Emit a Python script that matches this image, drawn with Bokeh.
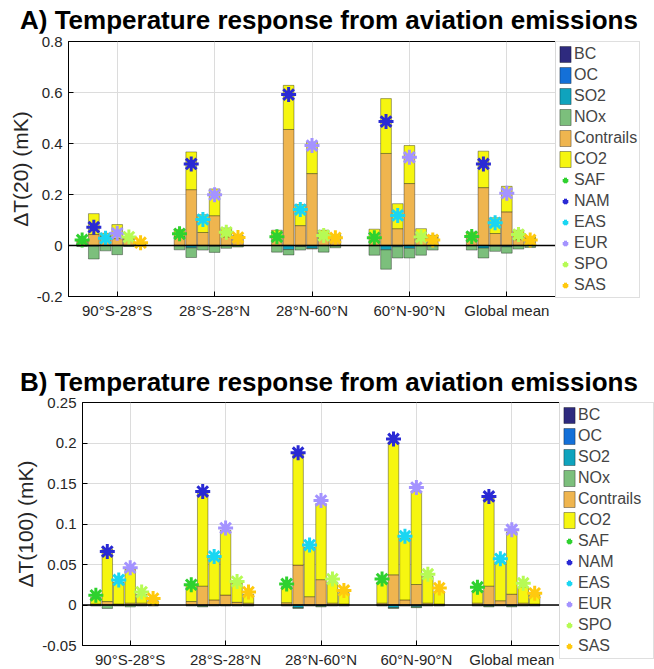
import numpy as np
from bokeh.plotting import figure
from bokeh.models import (Legend, LegendItem, FixedTicker, Span, Range1d,
                          NumeralTickFormatter, Div)
from bokeh.layouts import column
from bokeh.embed import file_html
from bokeh.resources import INLINE

bands = ["90°S-28°S", "28°S-28°N", "28°N-60°N", "60°N-90°N", "Global mean"]
regions = ["SAF", "NAM", "EAS", "EUR", "SPO", "SAS"]
components = ["BC", "OC", "SO2", "NOx", "Contrails", "CO2"]

comp_colors = ["#2e2a7e", "#1470d8", "#0fa3bd", "#7cbf7c", "#efb54f", "#f6f610"]
region_colors = ["#2fd12f", "#2a2ad4", "#1ad6f2", "#a493ff", "#b6fb55", "#ffc90e"]

title_a = "A) Temperature response from aviation emissions"
title_b = "B) Temperature response from aviation emissions"

# ---- Panel A: dT(20) in mK; rows = latitude bands, columns = SAF, NAM, EAS, EUR, SPO, SAS
a_bc = [[0.001] * 6 for _ in range(5)]
a_oc = [[-0.001] * 6 for _ in range(5)]
a_so2 = [[0, -0.002, 0, 0, 0, 0],
         [0, -0.008, 0, -0.002, 0, 0],
         [0, -0.015, -0.003, -0.010, 0, 0],
         [0, -0.016, -0.004, -0.010, 0, 0],
         [0, -0.009, -0.002, -0.004, 0, 0]]
a_nox = [[-0.003, -0.050, -0.020, -0.035, -0.003, -0.002],
         [-0.016, -0.038, -0.017, -0.024, -0.010, -0.005],
         [-0.025, -0.021, -0.014, -0.003, -0.025, -0.008],
         [-0.037, -0.076, -0.044, -0.038, -0.037, -0.017],
         [-0.017, -0.039, -0.020, -0.025, -0.013, -0.007]]
a_con = [[0.014, 0.042, 0.036, 0.026, 0.024, 0.008],
         [0.035, 0.218, 0.050, 0.116, 0.033, 0.030],
         [0.033, 0.454, 0.077, 0.281, 0.026, 0.032],
         [0.028, 0.360, 0.065, 0.242, 0.028, 0.030],
         [0.030, 0.226, 0.046, 0.131, 0.022, 0.026]]
a_co2 = [[0.008, 0.082, 0.011, 0.055, 0.008, 0.003],
         [0.027, 0.148, 0.070, 0.105, 0.035, 0.008],
         [0.026, 0.173, 0.083, 0.124, 0.033, 0.010],
         [0.035, 0.215, 0.098, 0.149, 0.037, 0.009],
         [0.022, 0.143, 0.062, 0.100, 0.037, 0.007]]
a_net = [[0.022, 0.072, 0.028, 0.048, 0.033, 0.011],
         [0.046, 0.320, 0.102, 0.199, 0.052, 0.031],
         [0.034, 0.592, 0.141, 0.392, 0.039, 0.030],
         [0.030, 0.486, 0.118, 0.346, 0.033, 0.022],
         [0.035, 0.320, 0.089, 0.205, 0.043, 0.022]]

# ---- Panel B: dT(100) in mK
b_bc = [[0.0003] * 6 for _ in range(5)]
b_oc = [[-0.0003] * 6 for _ in range(5)]
b_so2 = [[0, 0, 0, 0, 0, 0],
         [0, -0.001, 0, 0, 0, 0],
         [0, -0.003, 0, -0.001, 0, 0],
         [0, -0.003, 0, -0.002, 0, 0],
         [0, -0.001, 0, -0.001, 0, 0]]
b_nox = [[-0.001, -0.004, -0.001, -0.002, -0.001, -0.001],
         [-0.001, -0.001, -0.001, -0.001, -0.001, -0.001],
         [-0.001, -0.001, -0.001, -0.001, -0.001, -0.001],
         [-0.001, -0.001, -0.001, -0.001, -0.001, -0.001],
         [-0.001, -0.001, -0.001, -0.001, -0.001, -0.001]]
b_con = [[0.001, 0.004, 0.001, 0.002, 0.002, 0.001],
         [0.004, 0.023, 0.006, 0.012, 0.003, 0.002],
         [0.0025, 0.049, 0.010, 0.031, 0.002, 0.001],
         [0.002, 0.037, 0.006, 0.025, 0.002, 0.001],
         [0.002, 0.023, 0.005, 0.013, 0.002, 0.001]]
b_co2 = [[0.008, 0.065, 0.027, 0.042, 0.011, 0.004],
         [0.020, 0.116, 0.053, 0.080, 0.024, 0.011],
         [0.020, 0.137, 0.061, 0.094, 0.026, 0.014],
         [0.026, 0.164, 0.076, 0.115, 0.033, 0.0155],
         [0.0155, 0.109, 0.0475, 0.077, 0.020, 0.0115]]
b_net = [[0.012, 0.066, 0.031, 0.046, 0.016, 0.008],
         [0.025, 0.140, 0.060, 0.095, 0.029, 0.016],
         [0.026, 0.188, 0.074, 0.129, 0.032, 0.018],
         [0.032, 0.205, 0.085, 0.145, 0.038, 0.021],
         [0.022, 0.134, 0.057, 0.093, 0.027, 0.0145]]

a_ticks = [-0.2, 0, 0.2, 0.4, 0.6, 0.8]
b_ticks = [-0.05, 0, 0.05, 0.1, 0.15, 0.2, 0.25]

FONT = "Liberation Sans"
BAR_W = 0.11
STEP = 0.12


def stack(comp_arrays):
    pos = np.zeros((5, 6))
    neg = np.zeros((5, 6))
    out = []
    for arr in comp_arrays:
        a = np.asarray(arr, float)
        bottom = np.where(a >= 0, pos, neg + a)
        top = np.where(a >= 0, pos + a, neg)
        pos = np.where(a >= 0, pos + a, pos)
        neg = np.where(a < 0, neg + a, neg)
        out.append((bottom, top))
    return out


def title_div(text, height, top):
    html = ('<div style="position:relative; left:20px; top:%dpx; white-space:nowrap; '
            'font-family:\'Liberation Sans\', Arial, sans-serif; font-size:26px; '
            'font-weight:bold; line-height:24px; color:#000;">%s</div>' % (top, text))
    return Div(text=html, width=654, height=height, margin=0)


def panel(ylabel, comps, net, yr, yticks, fw, fh, left, top, bottom, leg_label_w, shift):
    p = figure(frame_width=fw, frame_height=fh,
               x_range=Range1d(0.5, 5.5), y_range=Range1d(*yr),
               output_backend="svg", toolbar_location=None,
               min_border_left=left, min_border_top=top,
               min_border_bottom=bottom, min_border_right=0,
               margin=(0, 0, 0, shift))

    xs = np.arange(1, 6)[:, None] + (np.arange(6)[None, :] - 3) * STEP
    xf = xs.ravel()

    for g in (p.xgrid, p.ygrid):
        g.grid_line_color = "#dcdcdc"
        g.grid_line_width = 1

    bars = []
    for (b, t), c in zip(stack(comps), comp_colors):
        r = p.vbar(x=xf, width=BAR_W, bottom=b.ravel(), top=t.ravel(),
                   fill_color=c, line_color="black", line_alpha=0.35, line_width=1)
        bars.append(r)

    p.add_layout(Span(location=0, dimension="width", line_color="black", line_width=1.3))

    netarr = np.asarray(net, float)
    marks = []
    for j, c in enumerate(region_colors):
        r = p.scatter(x=xs[:, j], y=netarr[:, j], marker="asterisk", size=15,
                      line_color=c, line_width=3)
        marks.append(r)

    p.xaxis.ticker = FixedTicker(ticks=[1, 2, 3, 4, 5])
    p.xaxis.major_label_overrides = {i + 1: bands[i] for i in range(5)}
    p.yaxis.ticker = FixedTicker(ticks=yticks)
    p.yaxis.formatter = NumeralTickFormatter(format="0.[00]")
    p.yaxis.axis_label = ylabel
    p.yaxis.axis_label_text_font = FONT
    p.yaxis.axis_label_text_font_size = "21px"
    p.yaxis.axis_label_text_font_style = "normal"
    p.yaxis.axis_label_text_color = "#262626"
    p.yaxis.axis_label_standoff = 2

    for ax in (p.xaxis, p.yaxis):
        ax.major_tick_in = 5
        ax.major_tick_out = 0
        ax.minor_tick_line_color = None
        ax.axis_line_color = "black"
        ax.major_tick_line_color = "black"
        ax.major_label_text_font = FONT
        ax.major_label_text_font_size = "15px"
        ax.major_label_text_color = "#262626"
    p.xaxis.major_label_standoff = 5
    p.yaxis.major_label_standoff = 6

    p.outline_line_color = "black"
    p.outline_line_alpha = 1
    p.outline_line_width = 1

    items = [LegendItem(label=n, renderers=[r]) for n, r in zip(components, bars)]
    items += [LegendItem(label=n, renderers=[r]) for n, r in zip(regions, marks)]
    leg = Legend(items=items, location="top_left",
                 label_text_font=FONT, label_text_font_size="16px",
                 glyph_width=14, glyph_height=20, label_height=20,
                 label_width=leg_label_w,
                 label_standoff=2, spacing=1, padding=2, margin=0,
                 border_line_color="#c0c0c0", background_fill_color="white")
    p.add_layout(leg, "right")
    return p


div_a = title_div(title_a, 33, 8)
pa = panel("ΔT(20) (mK)", [a_bc, a_oc, a_so2, a_nox, a_con, a_co2], a_net,
           (-0.2, 0.8), a_ticks, 500, 255, 82, 8, 52, 20, -14)
div_b = title_div(title_b, 47, 22)
pb = panel("ΔT(100) (mK)", [b_bc, b_oc, b_so2, b_nox, b_con, b_co2], b_net,
           (-0.05, 0.25), b_ticks, 477, 243, 82, 7, 24, 73, 0)

layout = column(div_a, pa, div_b, pb)
open("out.html", "w").write(file_html(layout, INLINE))
